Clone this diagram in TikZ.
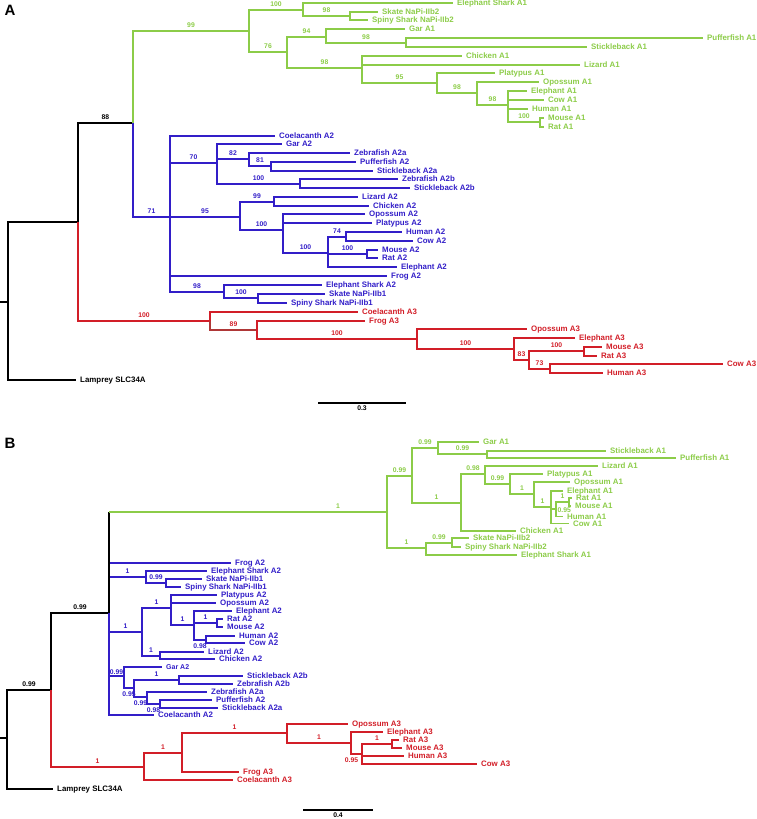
\documentclass[tikz,border=0pt]{standalone}
\usepackage{fontspec}
\setmainfont{Liberation Sans}
\usepackage{tikz}
\definecolor{lgreen}{RGB}{140,204,72}
\definecolor{dblue}{RGB}{50,30,200}
\definecolor{dred}{RGB}{210,30,40}
\definecolor{bred}{RGB}{175,55,55}
\tikzset{
  br/.style={line width=1.3pt},
  gbr/.style={br,draw=lgreen},
  bbr/.style={br,draw=dblue},
  rbr/.style={br,draw=dred},
  kbr/.style={br,draw=black},
  tip/.style={anchor=west,inner xsep=4pt,inner ysep=0pt,text height=5.7pt,text depth=0pt,font=\fontsize{7.9}{8}\selectfont\bfseries},
  gtip/.style={tip,text=lgreen},
  btip/.style={tip,text=dblue},
  rtip/.style={tip,text=dred},
  ktip/.style={tip,text=black},
  bs/.style={pos=0.75,above,inner xsep=0pt,inner ysep=3pt,text height=4.9pt,text depth=0pt,font=\fontsize{6.8}{7}\selectfont\bfseries},
  bsdown/.style={below},
  gbs/.style={bs,text=lgreen},
  bbs/.style={bs,text=dblue},
  rbs/.style={bs,text=dred},
  kbs/.style={bs,text=black},
  panel/.style={font=\fontsize{15}{15}\selectfont\bfseries,inner sep=0pt},
  barlbl/.style={below,inner sep=2pt,text height=4.9pt,text depth=0pt,font=\fontsize{6.8}{7}\selectfont\bfseries}
}
\begin{document}
\begin{tikzpicture}[x=1pt,y=-1pt]
\useasboundingbox (0,0) rectangle (757,819);

%%% panel A
\node[panel] (panelA) at (10,10) {A};
\coordinate (aStub) at (0,302);
\coordinate (aRoot) at (8,302);
\coordinate (aVert) at (78,222);
\coordinate (aA12) at (133,123);
\coordinate (aA1) at (249,31);
\coordinate (aA1a) at (303,10);
\coordinate (aSk) at (350,16);
\coordinate (aA1b) at (287,52);
\coordinate (aGar) at (326,37);
\coordinate (aPuf) at (406,43);
\coordinate (aTet) at (362,68);
\coordinate (aMam) at (437,83);
\coordinate (aThe) at (477,93);
\coordinate (aEut) at (508,105);
\coordinate (aMur) at (540,122);
\coordinate (aA2) at (170,217);
\coordinate (aA2a) at (217,163);
\coordinate (aN82) at (249,159);
\coordinate (aN81) at (271,166);
\coordinate (aA2b) at (300,184);
\coordinate (aTet2) at (240,217);
\coordinate (aSq2) at (274,202);
\coordinate (aMam2) at (283,230);
\coordinate (aEut2) at (328,253);
\coordinate (aN74) at (346,237);
\coordinate (aMur2) at (367,254);
\coordinate (aCh2) at (224,292);
\coordinate (aSk2) at (258,298);
\coordinate (aA3) at (210,321);
\coordinate (aN89) at (257,330);
\coordinate (aMam3) at (417,339);
\coordinate (aEut3) at (514,349);
\coordinate (aN83) at (529,360);
\coordinate (aMur3) at (584,351);
\coordinate (aN73) at (550,369);

\node[gtip] (aElephantSharkA1) at (453,3) {Elephant Shark A1};
\node[gtip] (aSkateA1) at (378,12) {Skate NaPi-IIb2};
\node[gtip] (aSpinyA1) at (368,20) {Spiny Shark NaPi-IIb2};
\node[gtip] (aGarA1) at (405,29) {Gar A1};
\node[gtip] (aPufferfishA1) at (703,38) {Pufferfish A1};
\node[gtip] (aSticklebackA1) at (587,47) {Stickleback A1};
\node[gtip] (aChickenA1) at (462,56) {Chicken A1};
\node[gtip] (aLizardA1) at (580,65) {Lizard A1};
\node[gtip] (aPlatypusA1) at (495,73) {Platypus A1};
\node[gtip] (aOpossumA1) at (539,82) {Opossum A1};
\node[gtip] (aElephantA1) at (527,91) {Elephant A1};
\node[gtip] (aCowA1) at (544,100) {Cow A1};
\node[gtip] (aHumanA1) at (528,109) {Human A1};
\node[gtip] (aMouseA1) at (544,118) {Mouse A1};
\node[gtip] (aRatA1) at (544,127) {Rat A1};

\node[btip] (aCoelacanthA2) at (275,136) {Coelacanth A2};
\node[btip] (aGarA2) at (282,144) {Gar A2};
\node[btip] (aZebrafishA2a) at (350,153) {Zebrafish A2a};
\node[btip] (aPufferfishA2) at (356,162) {Pufferfish A2};
\node[btip] (aSticklebackA2a) at (373,171) {Stickleback A2a};
\node[btip] (aZebrafishA2b) at (398,179) {Zebrafish A2b};
\node[btip] (aSticklebackA2b) at (410,188) {Stickleback A2b};
\node[btip] (aLizardA2) at (358,197) {Lizard A2};
\node[btip] (aChickenA2) at (369,206) {Chicken A2};
\node[btip] (aOpossumA2) at (365,214) {Opossum A2};
\node[btip] (aPlatypusA2) at (372,223) {Platypus A2};
\node[btip] (aHumanA2) at (402,232) {Human A2};
\node[btip] (aCowA2) at (413,241) {Cow A2};
\node[btip] (aMouseA2) at (378,250) {Mouse A2};
\node[btip] (aRatA2) at (378,258) {Rat A2};
\node[btip] (aElephantA2) at (397,267) {Elephant A2};
\node[btip] (aFrogA2) at (387,276) {Frog A2};
\node[btip] (aElephantSharkA2) at (322,285) {Elephant Shark A2};
\node[btip] (aSkateA2) at (325,294) {Skate NaPi-IIb1};
\node[btip] (aSpinyA2) at (287,303) {Spiny Shark NaPi-IIb1};

\node[rtip] (aCoelacanthA3) at (358,312) {Coelacanth A3};
\node[rtip] (aFrogA3) at (365,321) {Frog A3};
\node[rtip] (aOpossumA3) at (527,329) {Opossum A3};
\node[rtip] (aElephantA3) at (575,338) {Elephant A3};
\node[rtip] (aMouseA3) at (602,347) {Mouse A3};
\node[rtip] (aRatA3) at (597,356) {Rat A3};
\node[rtip] (aCowA3) at (723,364) {Cow A3};
\node[rtip] (aHumanA3) at (603,373) {Human A3};
\node[ktip] (aLamprey) at (76,380) {Lamprey SLC34A};

\draw[kbr] (aStub) -- (aRoot);
\draw[kbr] (aRoot) |- (aVert);
\draw[kbr] (aRoot) |- (aLamprey.west);
\draw[kbr] (aVert) |- node[kbs] (sA01) {88} (aA12);
\draw[rbr] (aVert) |- node[rbs] (sA02) {100} (aA3);
\draw[gbr] (aA12) |- node[gbs] (sA03) {99} (aA1);
\draw[bbr] (aA12) |- node[bbs] (sA04) {71} (aA2);
% A1 clade
\draw[gbr] (aA1) |- node[gbs] (sA05) {100} (aA1a);
\draw[gbr] (aA1a) |- (aElephantSharkA1.west);
\draw[gbr] (aA1a) |- node[gbs] (sA06) {98} (aSk);
\draw[gbr] (aSk) |- (aSkateA1.west);
\draw[gbr] (aSk) |- (aSpinyA1.west);
\draw[gbr] (aA1) |- node[gbs] (sA07) {76} (aA1b);
\draw[gbr] (aA1b) |- node[gbs] (sA08) {94} (aGar);
\draw[gbr] (aGar) |- (aGarA1.west);
\draw[gbr] (aGar) |- node[gbs] (sA09) {98} (aPuf);
\draw[gbr] (aPuf) |- (aPufferfishA1.west);
\draw[gbr] (aPuf) |- (aSticklebackA1.west);
\draw[gbr] (aA1b) |- node[gbs] (sA10) {98} (aTet);
\draw[gbr] (aTet) |- (aChickenA1.west);
\draw[gbr] (aTet) |- (aLizardA1.west);
\draw[gbr] (aTet) |- node[gbs] (sA11) {95} (aMam);
\draw[gbr] (aMam) |- (aPlatypusA1.west);
\draw[gbr] (aMam) |- node[gbs] (sA12) {98} (aThe);
\draw[gbr] (aThe) |- (aOpossumA1.west);
\draw[gbr] (aThe) |- node[gbs] (sA13) {98} (aEut);
\draw[gbr] (aEut) |- (aElephantA1.west);
\draw[gbr] (aEut) |- (aCowA1.west);
\draw[gbr] (aEut) |- (aHumanA1.west);
\draw[gbr] (aEut) |- node[gbs] (sA14) {100} (aMur);
\draw[gbr] (aMur) |- (aMouseA1.west);
\draw[gbr] (aMur) |- (aRatA1.west);
% A2 clade
\draw[bbr] (aA2) |- (aCoelacanthA2.west);
\draw[bbr] (aA2) |- node[bbs] (sA15) {70} (aA2a);
\draw[bbr] (aA2a) |- (aGarA2.west);
\draw[bbr] (aA2a) |- node[bbs] (sA16) {82} (aN82);
\draw[bbr] (aN82) |- (aZebrafishA2a.west);
\draw[bbr] (aN82) |- node[bbs] (sA17) {81} (aN81);
\draw[bbr] (aN81) |- (aPufferfishA2.west);
\draw[bbr] (aN81) |- (aSticklebackA2a.west);
\draw[bbr] (aA2a) |- node[bbs] (sA18) {100} (aA2b);
\draw[bbr] (aA2b) |- (aZebrafishA2b.west);
\draw[bbr] (aA2b) |- (aSticklebackA2b.west);
\draw[bbr] (aA2) |- node[bbs] (sA19) {95} (aTet2);
\draw[bbr] (aTet2) |- node[bbs] (sA20) {99} (aSq2);
\draw[bbr] (aSq2) |- (aLizardA2.west);
\draw[bbr] (aSq2) |- (aChickenA2.west);
\draw[bbr] (aTet2) |- node[bbs] (sA21) {100} (aMam2);
\draw[bbr] (aMam2) |- (aOpossumA2.west);
\draw[bbr] (aMam2) |- (aPlatypusA2.west);
\draw[bbr] (aMam2) |- node[bbs] (sA22) {100} (aEut2);
\draw[bbr] (aEut2) |- node[bbs] (sA23) {74} (aN74);
\draw[bbr] (aN74) |- (aHumanA2.west);
\draw[bbr] (aN74) |- (aCowA2.west);
\draw[bbr] (aEut2) |- node[bbs] (sA24) {100} (aMur2);
\draw[bbr] (aMur2) |- (aMouseA2.west);
\draw[bbr] (aMur2) |- (aRatA2.west);
\draw[bbr] (aEut2) |- (aElephantA2.west);
\draw[bbr] (aA2) |- (aFrogA2.west);
\draw[bbr] (aA2) |- node[bbs] (sA25) {98} (aCh2);
\draw[bbr] (aCh2) |- (aElephantSharkA2.west);
\draw[bbr] (aCh2) |- node[bbs] (sA26) {100} (aSk2);
\draw[bbr] (aSk2) |- (aSkateA2.west);
\draw[bbr] (aSk2) |- (aSpinyA2.west);
% A3 clade
\draw[rbr] (aA3) |- (aCoelacanthA3.west);
\draw[rbr,draw=bred] (aA3) |- node[rbs] (sA27) {89} (aN89);
\draw[rbr] (aN89) |- (aFrogA3.west);
\draw[rbr] (aN89) |- node[rbs] (sA28) {100} (aMam3);
\draw[rbr] (aMam3) |- (aOpossumA3.west);
\draw[rbr] (aMam3) |- node[rbs] (sA29) {100} (aEut3);
\draw[rbr] (aEut3) |- (aElephantA3.west);
\draw[rbr] (aEut3) |- node[rbs] (sA30) {83} (aN83);
\draw[rbr] (aN83) |- node[rbs] (sA31) {100} (aMur3);
\draw[rbr] (aMur3) |- (aMouseA3.west);
\draw[rbr] (aMur3) |- (aRatA3.west);
\draw[rbr] (aN83) |- node[rbs] (sA32) {73} (aN73);
\draw[rbr] (aN73) |- (aCowA3.west);
\draw[rbr] (aN73) |- (aHumanA3.west);
% scale bar
\coordinate (aBarL) at (318,403);
\coordinate (aBarR) at (406,403);
\draw[kbr] (aBarL) -- node[barlbl] (aBarText) {0.3} (aBarR);

%%% panel B
\node[panel] (panelB) at (10,443) {B};
\coordinate (bStub) at (0,738);
\coordinate (bRoot) at (7,738);
\coordinate (bN51) at (51,690);
\coordinate (bN109) at (109,613);
\coordinate (bA1) at (387,512);
\coordinate (bN412) at (412,476);
\coordinate (bN438) at (438,448);
\coordinate (bN487) at (487,454);
\coordinate (bN461) at (461,503);
\coordinate (bN485) at (485,474);
\coordinate (bN510) at (510,484);
\coordinate (bN534) at (534,494);
\coordinate (bN551) at (551,507);
\coordinate (bN556) at (556,509);
\coordinate (bN569) at (569,502);
\coordinate (bN426) at (426,548);
\coordinate (bN452) at (452,543);
\coordinate (bN146) at (146,577);
\coordinate (bN166) at (166,583);
\coordinate (bN142) at (142,632);
\coordinate (bN171) at (171,608);
\coordinate (bN194) at (194,625);
\coordinate (bN217) at (217,623);
\coordinate (bN206) at (206,640);
\coordinate (bN160) at (160,656);
\coordinate (bN124) at (124,676);
\coordinate (bN134) at (134,688);
\coordinate (bN179) at (179,680);
\coordinate (bN147) at (147,697);
\coordinate (bN160b) at (160,704);
\coordinate (bN144) at (144,767);
\coordinate (bN182) at (182,753);
\coordinate (bN287) at (287,733);
\coordinate (bN351) at (351,743);
\coordinate (bN362) at (362,754);
\coordinate (bN392) at (392,744);

\node[gtip] (bGarA1) at (479,442) {Gar A1};
\node[gtip] (bSticklebackA1) at (606,451) {Stickleback A1};
\node[gtip] (bPufferfishA1) at (676,458) {Pufferfish A1};
\node[gtip] (bLizardA1) at (598,466) {Lizard A1};
\node[gtip] (bPlatypusA1) at (543,474) {Platypus A1};
\node[gtip] (bOpossumA1) at (570,482) {Opossum A1};
\node[gtip] (bElephantA1) at (563,491) {Elephant A1};
\node[gtip] (bRatA1) at (572,498) {Rat A1};
\node[gtip] (bMouseA1) at (571,506) {Mouse A1};
\node[gtip] (bHumanA1) at (563,516.3) {Human A1};
\node[gtip] (bCowA1) at (569,523.7) {Cow A1};
\node[gtip] (bChickenA1) at (516,531) {Chicken A1};
\node[gtip] (bSkateA1) at (469,538) {Skate NaPi-IIb2};
\node[gtip] (bSpinyA1) at (461,547) {Spiny Shark NaPi-IIb2};
\node[gtip] (bElephantSharkA1) at (517,555) {Elephant Shark A1};

\node[btip] (bFrogA2) at (231,563) {Frog A2};
\node[btip] (bElephantSharkA2) at (207,571) {Elephant Shark A2};
\node[btip] (bSkateA2) at (202,579) {Skate NaPi-IIb1};
\node[btip] (bSpinyA2) at (181,587) {Spiny Shark NaPi-IIb1};
\node[btip] (bPlatypusA2) at (217,595) {Platypus A2};
\node[btip] (bOpossumA2) at (216,603) {Opossum A2};
\node[btip] (bElephantA2) at (232,611) {Elephant A2};
\node[btip] (bRatA2) at (223,619) {Rat A2};
\node[btip] (bMouseA2) at (223,627) {Mouse A2};
\node[btip] (bHumanA2) at (235,636) {Human A2};
\node[btip] (bCowA2) at (245,643) {Cow A2};
\node[btip] (bLizardA2) at (204,652) {Lizard A2};
\node[btip] (bChickenA2) at (215,659) {Chicken A2};
\node[btip,font=\fontsize{7}{7}\selectfont\bfseries] (bGarA2) at (162,667) {Gar A2};
\node[btip] (bSticklebackA2b) at (243,676) {Stickleback A2b};
\node[btip] (bZebrafishA2b) at (233,684) {Zebrafish A2b};
\node[btip] (bZebrafishA2a) at (207,692) {Zebrafish A2a};
\node[btip] (bPufferfishA2) at (212,700) {Pufferfish A2};
\node[btip] (bSticklebackA2a) at (218,708) {Stickleback A2a};
\node[btip] (bCoelacanthA2) at (154,715) {Coelacanth A2};

\node[rtip] (bOpossumA3) at (348,724) {Opossum A3};
\node[rtip] (bElephantA3) at (383,732) {Elephant A3};
\node[rtip] (bRatA3) at (399,740) {Rat A3};
\node[rtip] (bMouseA3) at (402,748) {Mouse A3};
\node[rtip] (bHumanA3) at (404,756) {Human A3};
\node[rtip] (bCowA3) at (477,764) {Cow A3};
\node[rtip] (bFrogA3) at (239,772) {Frog A3};
\node[rtip] (bCoelacanthA3) at (233,780) {Coelacanth A3};
\node[ktip] (bLamprey) at (53,789) {Lamprey SLC34A};

\draw[kbr] (bStub) -- (bRoot);
\draw[kbr] (bRoot) |- node[kbs] (sB01) {0.99} (bN51);
\draw[kbr] (bRoot) |- (bLamprey.west);
\draw[kbr] (bN51) |- node[kbs] (sB02) {0.99} (bN109);
\draw[rbr] (bN51) |- node[rbs] (sB03) {1} (bN144);
% A2 clade
\draw[bbr] (bN109) |- (bFrogA2.west);
\draw[bbr] (bN109) |- node[bbs] (sB04) {1} (bN146);
\draw[bbr] (bN146) |- (bElephantSharkA2.west);
\draw[bbr] (bN146) |- node[bbs] (sB05) {0.99} (bN166);
\draw[bbr] (bN166) |- (bSkateA2.west);
\draw[bbr] (bN166) |- (bSpinyA2.west);
\draw[bbr] (bN109) |- node[bbs] (sB06) {1} (bN142);
\draw[bbr] (bN142) |- node[bbs] (sB07) {1} (bN171);
\draw[bbr] (bN171) |- (bPlatypusA2.west);
\draw[bbr] (bN171) |- (bOpossumA2.west);
\draw[bbr] (bN171) |- node[bbs] (sB08) {1} (bN194);
\draw[bbr] (bN194) |- (bElephantA2.west);
\draw[bbr] (bN194) |- node[bbs] (sB09) {1} (bN217);
\draw[bbr] (bN217) |- (bRatA2.west);
\draw[bbr] (bN217) |- (bMouseA2.west);
\draw[bbr] (bN194) |- node[bbs,bsdown] (sB10) {0.98} (bN206);
\draw[bbr] (bN206) |- (bHumanA2.west);
\draw[bbr] (bN206) |- (bCowA2.west);
\draw[bbr] (bN142) |- node[bbs] (sB11) {1} (bN160);
\draw[bbr] (bN160) |- (bLizardA2.west);
\draw[bbr] (bN160) |- (bChickenA2.west);
\draw[bbr] (bN109) |- node[bbs,inner ysep=0.5pt] (sB12) {0.99} (bN124);
\draw[bbr] (bN124) |- (bGarA2.west);
\draw[bbr] (bN124) |- node[bbs,bsdown] (sB13) {0.95} (bN134);
\draw[bbr] (bN134) |- node[bbs] (sB14) {1} (bN179);
\draw[bbr] (bN179) |- (bSticklebackA2b.west);
\draw[bbr] (bN179) |- (bZebrafishA2b.west);
\draw[bbr] (bN134) |- node[bbs,bsdown] (sB15) {0.99} (bN147);
\draw[bbr] (bN147) |- (bZebrafishA2a.west);
\draw[bbr] (bN147) |- node[bbs,bsdown] (sB16) {0.98} (bN160b);
\draw[bbr] (bN160b) |- (bPufferfishA2.west);
\draw[bbr] (bN160b) |- (bSticklebackA2a.west);
\draw[bbr] (bN109) |- (bCoelacanthA2.west);
% A1 clade
\draw[kbr] (bN109) -- (bN109 |- bA1);
\draw[gbr] (bN109 |- bA1) -- node[gbs,pos=0.824] (sB17) {1} (bA1);
\draw[gbr] (bA1) |- node[gbs] (sB18) {0.99} (bN412);
\draw[gbr] (bN412) |- node[gbs] (sB19) {0.99} (bN438);
\draw[gbr] (bN438) |- (bGarA1.west);
\draw[gbr] (bN438) |- node[gbs] (sB20) {0.99} (bN487);
\draw[gbr] (bN487) |- (bSticklebackA1.west);
\draw[gbr] (bN487) |- (bPufferfishA1.west);
\draw[gbr] (bN412) |- node[gbs] (sB21) {1} (bN461);
\draw[gbr] (bN461) |- node[gbs] (sB22) {0.98} (bN485);
\draw[gbr] (bN485) |- (bLizardA1.west);
\draw[gbr] (bN485) |- node[gbs] (sB23) {0.99} (bN510);
\draw[gbr] (bN510) |- (bPlatypusA1.west);
\draw[gbr] (bN510) |- node[gbs] (sB24) {1} (bN534);
\draw[gbr] (bN534) |- (bOpossumA1.west);
\draw[gbr] (bN534) |- node[gbs] (sB25) {1} (bN551);
\draw[gbr] (bN551) |- (bElephantA1.west);
\draw[gbr] (bN551) |- node[gbs,pos=1,right,inner xsep=1pt,inner ysep=0pt,yshift=-1.5pt] (sB26) {0.95} (bN556);
\draw[gbr] (bN556) |- node[gbs] (sB27) {1} (bN569);
\draw[gbr] (bN569) |- (bRatA1.west);
\draw[gbr] (bN569) |- (bMouseA1.west);
\draw[gbr] (bN556) |- (bHumanA1.west);
\draw[gbr] (bN551) |- (bCowA1.west);
\draw[gbr] (bN461) |- (bChickenA1.west);
\draw[gbr] (bA1) |- node[gbs] (sB28) {1} (bN426);
\draw[gbr] (bN426) |- node[gbs] (sB29) {0.99} (bN452);
\draw[gbr] (bN452) |- (bSkateA1.west);
\draw[gbr] (bN452) |- (bSpinyA1.west);
\draw[gbr] (bN426) |- (bElephantSharkA1.west);
% A3 clade
\draw[rbr] (bN144) |- node[rbs] (sB30) {1} (bN182);
\draw[rbr] (bN182) |- node[rbs] (sB31) {1} (bN287);
\draw[rbr] (bN287) |- (bOpossumA3.west);
\draw[rbr] (bN287) |- node[rbs] (sB32) {1} (bN351);
\draw[rbr] (bN351) |- (bElephantA3.west);
\draw[rbr] (bN351) |- node[rbs,bsdown,xshift=-5pt] (sB33) {0.95} (bN362);
\draw[rbr] (bN362) |- node[rbs] (sB34) {1} (bN392);
\draw[rbr] (bN392) |- (bRatA3.west);
\draw[rbr] (bN392) |- (bMouseA3.west);
\draw[rbr] (bN362) |- (bHumanA3.west);
\draw[rbr] (bN362) |- (bCowA3.west);
\draw[rbr] (bN182) |- (bFrogA3.west);
\draw[rbr] (bN144) |- (bCoelacanthA3.west);
% scale bar
\coordinate (bBarL) at (303,810);
\coordinate (bBarR) at (373,810);
\draw[kbr] (bBarL) -- node[barlbl] (bBarText) {0.4} (bBarR);
\end{tikzpicture}
\end{document}
